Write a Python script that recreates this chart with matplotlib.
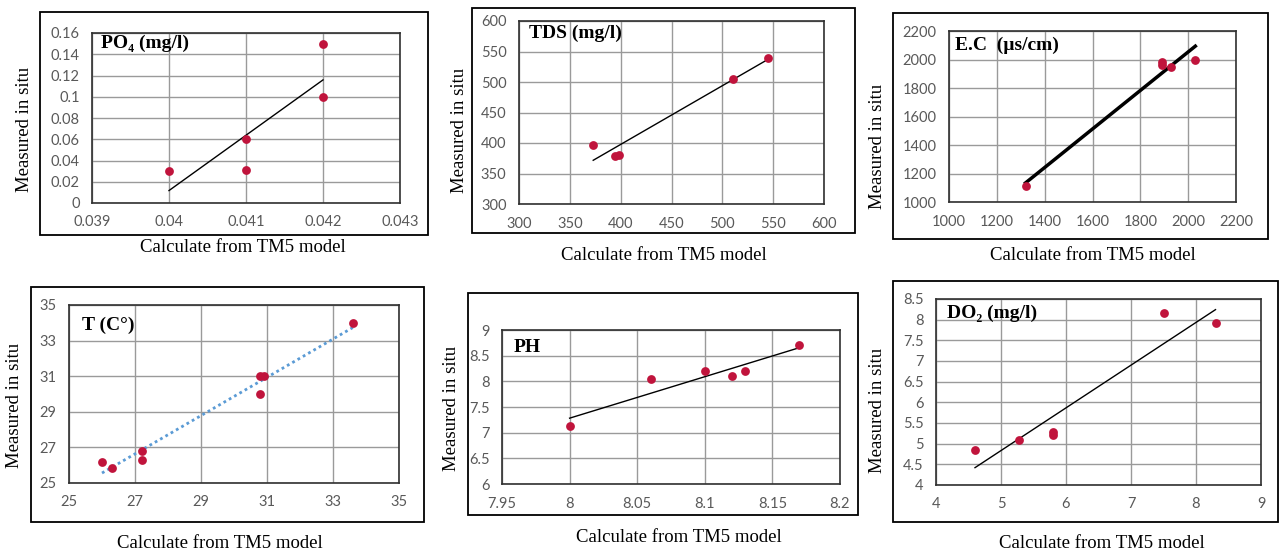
import numpy as np
import matplotlib.pyplot as plt
from matplotlib.patches import Rectangle

W, H = 1279, 554

# PO4 (mg/l)
po4_calc = [0.040, 0.041, 0.041, 0.042, 0.042]
po4_meas = [0.030, 0.060, 0.031, 0.150, 0.100]
po4_xt = [0.039, 0.040, 0.041, 0.042, 0.043]
po4_yt = [0, 0.02, 0.04, 0.06, 0.08, 0.10, 0.12, 0.14, 0.16]

# TDS (mg/l)
tds_calc = [373, 394, 398, 510, 545]
tds_meas = [397, 378, 380, 505, 540]
tds_xt = [300, 350, 400, 450, 500, 550, 600]
tds_yt = [300, 350, 400, 450, 500, 550, 600]

# E.C (us/cm)
ec_calc = [1320, 1890, 1890, 1930, 2030]
ec_meas = [1110, 1980, 1960, 1945, 2000]
ec_xt = [1000, 1200, 1400, 1600, 1800, 2000, 2200]
ec_yt = [1000, 1200, 1400, 1600, 1800, 2000, 2200]

# T (C)
t_calc = [26.0, 26.3, 27.2, 27.2, 30.8, 30.9, 30.8, 33.6]
t_meas = [26.2, 25.85, 26.8, 26.3, 31.0, 31.0, 30.0, 34.0]
t_xt = [25, 27, 29, 31, 33, 35]
t_yt = [25, 27, 29, 31, 33, 35]

# PH
ph_calc = [8.00, 8.06, 8.10, 8.12, 8.13, 8.17]
ph_meas = [7.13, 8.05, 8.20, 8.10, 8.20, 8.70]
ph_xt = [7.95, 8.00, 8.05, 8.10, 8.15, 8.20]
ph_yt = [6, 6.5, 7, 7.5, 8, 8.5, 9]

# DO2 (mg/l)
do_calc = [4.6, 5.27, 5.8, 5.8, 7.5, 8.3]
do_meas = [4.85, 5.08, 5.28, 5.2, 8.17, 7.93]
do_xt = [4, 5, 6, 7, 8, 9]
do_yt = [4, 4.5, 5, 5.5, 6, 6.5, 7, 7.5, 8, 8.5]

serif = ['Liberation Serif', 'DejaVu Serif']
dot_red = '#c0143c'

fig = plt.figure(figsize=(W / 100, H / 100), dpi=100)


def box(l, t, r, b):
    return [l / W, 1 - b / H, (r - l) / W, (b - t) / H]


panels = [
    # data, ticks, title, plot area px, frame px, ylabel pos, xlabel pos, title pos, trend style
    (po4_calc, po4_meas, po4_xt, po4_yt, 'PO\u2084 (mg/l)',
     (92, 33, 400, 203), (40, 12, 428, 235), (25, 129), (243, 248), (101, 43),
     dict(color='black', lw=1.0)),
    (tds_calc, tds_meas, tds_xt, tds_yt, 'TDS (mg/l)',
     (519, 21, 824, 204), (472, 8, 855, 233), (460, 130), (664, 255), (529, 33),
     dict(color='black', lw=1.0)),
    (ec_calc, ec_meas, ec_xt, ec_yt, 'E.C  (\u00b5s/cm)',
     (949, 31, 1236, 202), (893, 13, 1268, 239), (878, 146), (1093, 255), (955, 45),
     dict(color='black', lw=2.5)),
    (t_calc, t_meas, t_xt, t_yt, 'T (C\u00b0)',
     (69, 305, 399, 483), (31, 287, 424, 522), (15, 405), (220, 543), (82, 325),
     dict(color='#5b9bd5', lw=2.0, linestyle=(0, (1, 1.2)))),
    (ph_calc, ph_meas, ph_xt, ph_yt, 'PH',
     (502, 330, 840, 484), (468, 293, 858, 515), (452, 408), (679, 537), (514, 347),
     dict(color='black', lw=1.0)),
    (do_calc, do_meas, do_xt, do_yt, 'DO\u2082 (mg/l)',
     (936, 299, 1261, 485), (893, 281, 1278, 522), (877, 410), (1102, 543), (947, 313),
     dict(color='black', lw=1.0)),
]

for xs, ys, xt, yt, title, area, frame, ylab, xlab, tpos, trend in panels:
    # outer chart frame
    fl, ft, fr, fb = frame
    fig.patches.append(Rectangle((fl / W, 1 - fb / H), (fr - fl) / W, (fb - ft) / H,
                                 transform=fig.transFigure, fill=False,
                                 edgecolor='black', lw=1.3))

    ax = fig.add_axes(box(*area))
    ax.set_xlim(xt[0], xt[-1])
    ax.set_ylim(yt[0], yt[-1])
    ax.set_xticks(xt)
    ax.set_yticks(yt)
    ax.set_xticklabels(['%g' % v for v in xt])
    ax.set_yticklabels(['%g' % v for v in yt])
    ax.tick_params(length=0, labelsize=10.5, labelcolor='#595959', pad=9)
    for lab in ax.get_xticklabels() + ax.get_yticklabels():
        lab.set_family('Lato')
    ax.grid(True, color='#9a9a9a', lw=1.0)
    ax.set_axisbelow(True)
    for sp in ax.spines.values():
        sp.set_color('#303030')
        sp.set_linewidth(1.2)

    # linear trend line
    k, b = np.polyfit(xs, ys, 1)
    xx = np.array([min(xs), max(xs)])
    ax.plot(xx, k * xx + b, zorder=3, **trend)
    ax.scatter(xs, ys, s=40, color=dot_red, zorder=4, linewidths=0)

    fig.text(tpos[0] / W, 1 - tpos[1] / H, title, family=serif, fontweight='bold',
             fontsize=14, ha='left', va='center')
    fig.text(ylab[0] / W, 1 - ylab[1] / H, 'Measured in situ', family=serif,
             fontsize=13.5, rotation=90, ha='center', va='center')
    fig.text(xlab[0] / W, 1 - xlab[1] / H, 'Calculate from TM5 model', family=serif,
             fontsize=13.5, ha='center', va='center')

fig.savefig('out.png', dpi=100)
